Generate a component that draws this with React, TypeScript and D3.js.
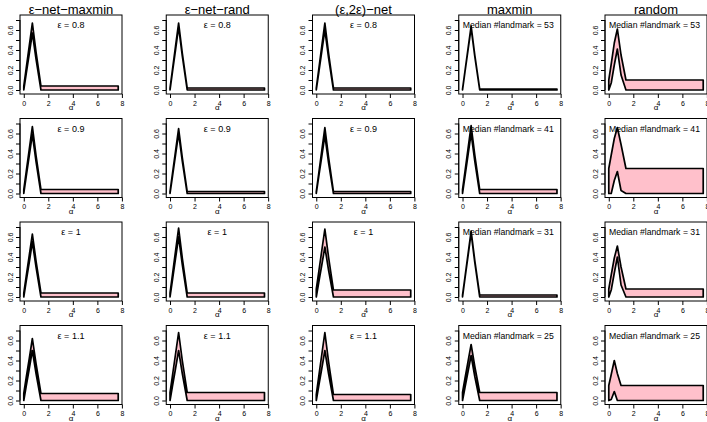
import React, { useRef, useEffect } from 'react';
import * as d3 from 'd3';

// alpha grid shared by every panel
const alpha = [0, 0.2, 0.45, 0.7, 1.0, 1.4, 7.7];

const methods = ['ε−net−maxmin', 'ε−net−rand', '(ε,2ε)−net', 'maxmin', 'random'];
const epsilons = ['0.8', '0.9', '1', '1.1'];
const medianLandmarks = [53, 41, 31, 25];

const xTicks = [0, 2, 4, 6, 8];
const yTicks = [0, 0.1, 0.2, 0.3, 0.4, 0.5, 0.6, 0.7];
const yLabels = [0, 0.2, 0.4, 0.6];

// one entry per method (columns), upper / lower envelope
const upper08 = [
  [0.04, 0.22, 0.445, 0.67, 0.38, 0.04, 0.04],
  [0.02, 0.205, 0.44, 0.67, 0.37, 0.02, 0.02],
  [0.02, 0.205, 0.44, 0.67, 0.37, 0.02, 0.02],
  [0.01, 0.19, 0.415, 0.64, 0.35, 0.01, 0.01],
  [0.1, 0.26, 0.47, 0.61, 0.35, 0.1, 0.1],
];
const lower08 = [
  [0, 0.165, 0.365, 0.57, 0.31, 0, 0],
  [0, 0.18, 0.4, 0.63, 0.34, 0, 0],
  [0, 0.17, 0.385, 0.6, 0.325, 0, 0],
  [0, 0.18, 0.4, 0.62, 0.335, 0, 0],
  [0, 0.07, 0.25, 0.41, 0.15, 0, 0],
];
const upper09 = [
  [0.04, 0.22, 0.445, 0.67, 0.38, 0.04, 0.04],
  [0.02, 0.2, 0.425, 0.65, 0.36, 0.02, 0.02],
  [0.02, 0.2, 0.43, 0.66, 0.365, 0.02, 0.02],
  [0.04, 0.22, 0.45, 0.68, 0.385, 0.04, 0.04],
  [0.25, 0.385, 0.55, 0.66, 0.49, 0.25, 0.25],
];
const lower09 = [
  [0, 0.17, 0.38, 0.59, 0.32, 0, 0],
  [0, 0.17, 0.385, 0.6, 0.325, 0, 0],
  [0, 0.17, 0.37, 0.58, 0.31, 0, 0],
  [0, 0.17, 0.385, 0.6, 0.325, 0, 0],
  [0, 0, 0.13, 0.22, 0.03, 0, 0],
];
const upper10 = [
  [0.04, 0.21, 0.42, 0.63, 0.36, 0.04, 0.04],
  [0.04, 0.225, 0.46, 0.69, 0.39, 0.04, 0.04],
  [0.08, 0.25, 0.465, 0.68, 0.4, 0.07, 0.07],
  [0.02, 0.2, 0.43, 0.66, 0.365, 0.02, 0.02],
  [0.08, 0.22, 0.39, 0.51, 0.3, 0.08, 0.08],
];
const lower10 = [
  [0, 0.16, 0.35, 0.55, 0.3, 0, 0],
  [0, 0.17, 0.385, 0.6, 0.325, 0, 0],
  [0, 0.145, 0.32, 0.5, 0.27, 0, 0],
  [0, 0.185, 0.41, 0.64, 0.345, 0, 0],
  [0, 0.07, 0.24, 0.4, 0.12, 0, 0],
];
const upper11 = [
  [0.07, 0.23, 0.42, 0.62, 0.37, 0.07, 0.07],
  [0.08, 0.25, 0.465, 0.68, 0.4, 0.08, 0.08],
  [0.06, 0.24, 0.46, 0.68, 0.39, 0.06, 0.06],
  [0.08, 0.22, 0.39, 0.56, 0.34, 0.08, 0.08],
  [0.15, 0.26, 0.4, 0.27, 0.15, 0.15, 0.15],
];
const lower11 = [
  [0, 0.145, 0.32, 0.5, 0.27, 0, 0],
  [0, 0.145, 0.32, 0.5, 0.27, 0, 0],
  [0, 0.145, 0.32, 0.5, 0.27, 0, 0],
  [0, 0.13, 0.29, 0.45, 0.24, 0, 0],
  [0, 0.01, 0.09, 0, 0, 0, 0],
];

const W = 707;
const H = 422;
const FONT = '"Liberation Sans", Arial, Helvetica, sans-serif';

const App = () => {
  const svgRef = useRef<SVGSVGElement>(null);

  useEffect(() => {
    const uppers = [upper08, upper09, upper10, upper11];
    const lowers = [lower08, lower09, lower10, lower11];

    const svg = d3.select(svgRef.current);
    svg.selectAll('*').remove();
    svg.append('rect').attr('width', W).attr('height', H).attr('fill', 'white');

    const boxW = 102;
    const boxH = 79;

    epsilons.forEach((eps, r) => {
      methods.forEach((method, c) => {
        const left = 20 + c * 146.25;
        const top = 15 + r * 103.5;

        const x = d3.scaleLinear().domain([-0.308, 8.008]).range([left, left + boxW]);
        const y = d3.scaleLinear().domain([-0.04, 0.75]).range([top + boxH, top]);

        const g = svg.append('g').style('font-family', FONT);

        const up = uppers[r][c];
        const lo = lowers[r][c];
        const pts: [number, number][] = alpha
          .map((a, i) => [x(a), y(up[i])] as [number, number])
          .concat(alpha.map((a, i) => [x(a), y(lo[i])] as [number, number]).reverse());

        g.append('path')
          .attr('d', d3.line()(pts) + 'Z')
          .attr('fill', '#FFC0CB')
          .attr('stroke', 'black')
          .attr('stroke-width', 1.7)
          .attr('stroke-linejoin', 'round');

        g.append('rect')
          .attr('x', left)
          .attr('y', top)
          .attr('width', boxW)
          .attr('height', boxH)
          .attr('fill', 'none')
          .attr('stroke', 'black')
          .attr('stroke-width', 1);

        // y axis
        const ya = g.append('g')
          .attr('transform', `translate(${left},0)`)
          .call(
            d3.axisLeft(y)
              .tickValues(yTicks)
              .tickSize(4)
              .tickSizeOuter(0)
              .tickFormat((d: any) => (yLabels.includes(+d) ? d3.format('.1f')(+d) : ''))
          );
        ya.select('.domain').remove();
        ya.append('line')
          .attr('x1', 0).attr('x2', 0)
          .attr('y1', y(0)).attr('y2', y(0.7))
          .attr('stroke', 'black');
        ya.selectAll('.tick text')
          .attr('transform', 'rotate(-90)')
          .attr('x', 0)
          .attr('y', -7.5)
          .attr('dy', 0)
          .attr('text-anchor', 'middle')
          .style('font-size', '7px')
          .style('font-family', FONT);

        // x axis
        const xa = g.append('g')
          .attr('transform', `translate(0,${top + boxH})`)
          .call(d3.axisBottom(x).tickValues(xTicks).tickSize(4).tickSizeOuter(0).tickPadding(3));
        xa.select('.domain').remove();
        xa.selectAll('.tick text').style('font-size', '7px').style('font-family', FONT);

        g.append('text')
          .attr('x', left + boxW / 2)
          .attr('y', top + boxH + 16)
          .attr('text-anchor', 'middle')
          .style('font-size', '8px')
          .text('α');

        // annotation inside panel
        if (c < 3) {
          g.append('text')
            .attr('x', left + boxW / 2)
            .attr('y', top + 13)
            .attr('text-anchor', 'middle')
            .style('font-size', '9px')
            .text(`ε = ${eps}`);
        } else {
          g.append('text')
            .attr('x', left + 4)
            .attr('y', top + 13)
            .style('font-size', '8.7px')
            .text(`Median #landmark = ${medianLandmarks[r]}`);
        }

        if (r === 0) {
          g.append('text')
            .attr('x', left + boxW / 2)
            .attr('y', 13.5)
            .attr('text-anchor', 'middle')
            .style('font-size', '13px')
            .text(method);
        }
      });
    });
  }, []);

  return (
    <div style={{ position: 'absolute', left: 0, top: 0 }}>
      <svg ref={svgRef} width={W} height={H} style={{ display: 'block' }}></svg>
    </div>
  );
};

export default App;
